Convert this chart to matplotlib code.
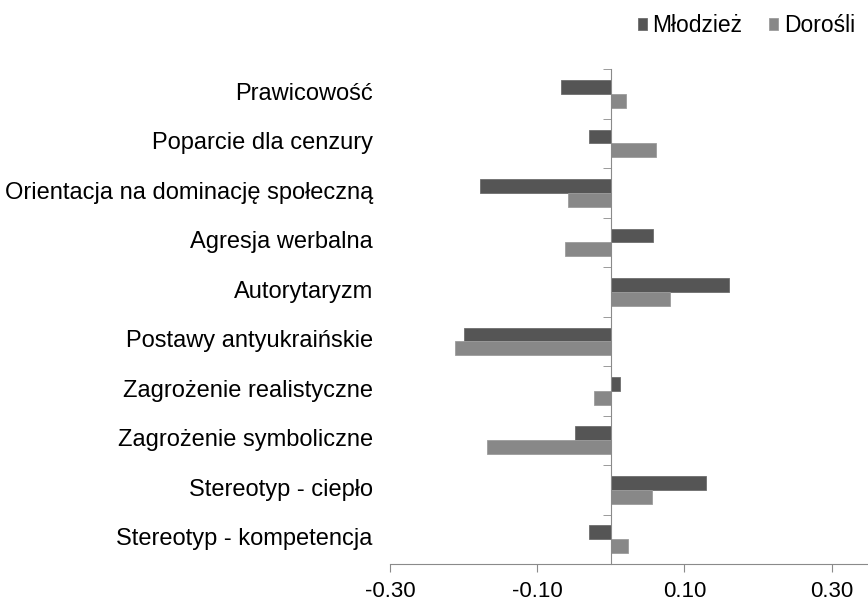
import numpy as np
import matplotlib.pyplot as plt
from matplotlib.transforms import blended_transform_factory

# categories, top to bottom
categories = ['Prawicowość', 'Poparcie dla cenzury', 'Orientacja na dominację społeczną',
              'Agresja werbalna', 'Autorytaryzm', 'Postawy antyukraińskie',
              'Zagrożenie realistyczne', 'Zagrożenie symboliczne',
              'Stereotyp - ciepło', 'Stereotyp - kompetencja']
mlodziez = [-0.068, -0.030, -0.178, 0.058, 0.161, -0.200, 0.013, -0.049, 0.130, -0.029]
dorosli = [0.021, 0.061, -0.058, -0.062, 0.081, -0.211, -0.023, -0.168, 0.056, 0.024]
xticks = [-0.30, -0.10, 0.10, 0.30]

plt.rcParams['font.family'] = ['Liberation Sans', 'DejaVu Sans']

fig = plt.figure(figsize=(8.68, 6.01), dpi=100)
ax = fig.add_axes([0.4493, 0.0616, 0.5507, 0.8231])

n = len(categories)
y = np.arange(n)[::-1]
h = 0.28
ax.barh(y + h / 2, mlodziez, height=h, color='#555555', edgecolor='#6e6e6e', linewidth=0.6, label='Młodzież')
ax.barh(y - h / 2, dorosli, height=h, color='#888888', edgecolor='#9c9c9c', linewidth=0.6, label='Dorośli')

ax.set_xlim(-0.30, 0.3496)
ax.set_ylim(-0.5, n - 0.5)

axis_col = '#8a8a8a'
for s in ['top', 'right']:
    ax.spines[s].set_visible(False)
ax.spines['left'].set_position(('data', 0))
ax.spines['left'].set_color(axis_col)
ax.spines['bottom'].set_color(axis_col)

ax.set_yticks([])
ax.set_yticks(np.arange(n) + 0.5, minor=True)
ax.tick_params(axis='y', which='minor', length=6, color=axis_col, direction='out', labelleft=False)

ax.set_xticks(xticks)
ax.set_xticklabels([f'{v:.2f}' for v in xticks], fontsize=16)
ax.tick_params(axis='x', length=6, color=axis_col, pad=6)

tr = blended_transform_factory(ax.transAxes, ax.transData)
for yi, lab in zip(y, categories):
    ax.text(-0.036, yi, lab, transform=tr, ha='right', va='center', fontsize=17)

ax.legend(loc='center right', bbox_to_anchor=(0.985, 0.957), bbox_transform=fig.transFigure,
          ncol=2, frameon=False, fontsize=16.5, handlelength=0.4, handleheight=0.4,
          handletextpad=0.25, columnspacing=1.15, borderpad=0, borderaxespad=0)

fig.savefig('out.png', dpi=100)
